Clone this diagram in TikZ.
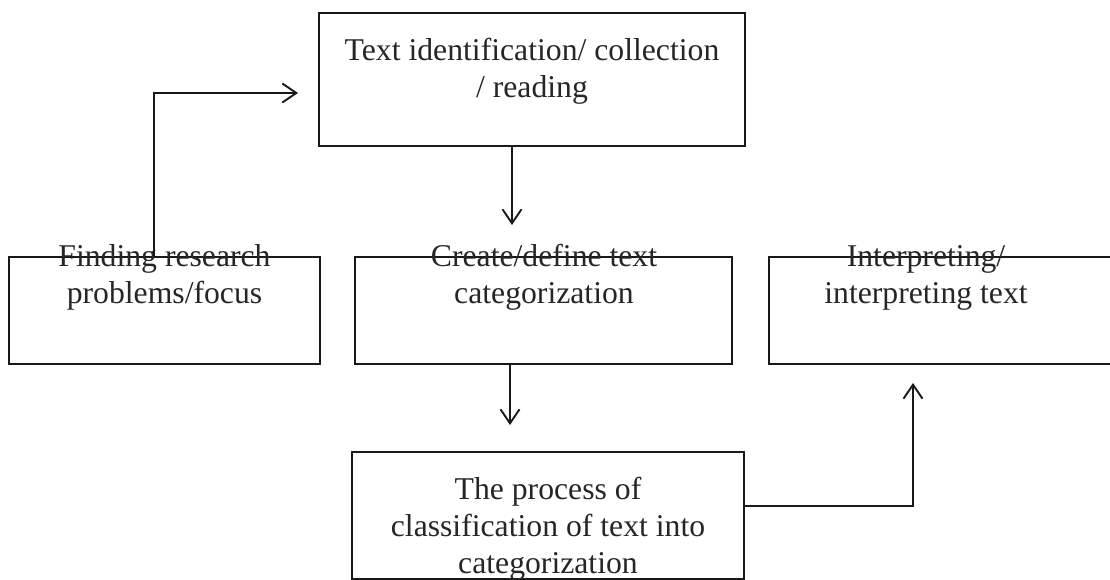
\documentclass[tikz,border=0pt]{standalone}
\usepackage{fontspec}
\setmainfont{Liberation Serif}
\usetikzlibrary{arrows.meta}
\begin{document}
\begin{tikzpicture}[x=1pt,y=-1pt,
  box/.style={draw=black!90,line width=2.8pt,rectangle,inner sep=0pt},
  lbl/.style={anchor=base,align=center,inner sep=0pt,text=black!85,
    font=\fontsize{31.7}{37}\selectfont},
  arr/.style={draw=black!90,line width=1.9pt,-{Straight Barb[length=14pt,width=19pt,line width=1.9pt]}}]
\useasboundingbox (0,0) rectangle (1110,580);
\clip (0,0) rectangle (1110,580);
% boxes
\node[box,minimum width=426pt,minimum height=133pt] (tb) at (532,79.5) {};
\node[box,minimum width=311pt,minimum height=107pt] (lb) at (164.5,310.5) {};
\node[box,minimum width=377pt,minimum height=107pt] (mb) at (543.5,310.5) {};
\node[box,minimum width=350pt,minimum height=107pt] (rb) at (944,310.5) {};
\node[box,minimum width=392pt,minimum height=127pt] (bb) at (548,515.5) {};
% texts (anchored at the baseline of the last line)
\node[lbl] (tbt) at (532,97.5) {Text identification/ collection\\/ reading};
\node[lbl] (lbt) at (164.5,303) {Finding research\\problems/focus};
\node[lbl] (mbt) at (544,303) {Create/define text\\categorization};
\node[lbl] (rbt) at (926,303) {Interpreting/\\interpreting text};
\node[lbl] (bbt) at (548,573) {The process of\\classification of text into\\categorization};
% connectors
\coordinate (e1) at (298,93);
\coordinate (e2) at (512,225);
\coordinate (e3) at (510,425);
\coordinate (e4) at (913,383);
\draw[arr] ([xshift=-10.5pt]lb.north) |- (e1);
\draw[arr] (tb.south -| e2) -- (e2);
\draw[arr] (mb.south -| e3) -- (e3);
\draw[arr] ([yshift=9.5pt]bb.east) -| (e4);
\end{tikzpicture}
\end{document}
